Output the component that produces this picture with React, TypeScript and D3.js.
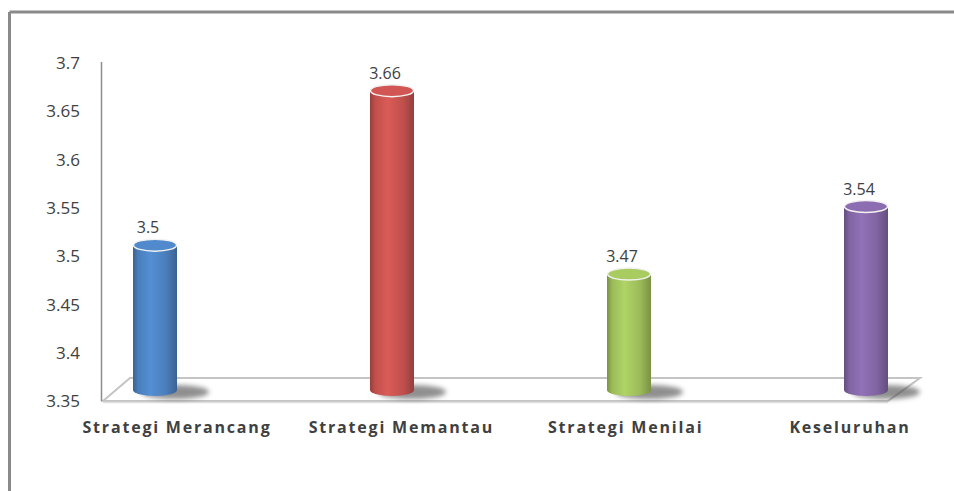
import React from "react";
import * as d3 from "d3";

const categories = ["Strategi Merancang", "Strategi Memantau", "Strategi Menilai", "Keseluruhan"];
const values = [3.5, 3.66, 3.47, 3.54];
const yTicks = [3.35, 3.4, 3.45, 3.5, 3.55, 3.6, 3.65, 3.7];
const colors = ["#4a7ebb", "#c0504d", "#9bbb59", "#8064a2"];

const W = 954;
const H = 491;

export default function App() {
  const y = d3.scaleLinear().domain([3.35, 3.7]).range([401, 63]);
  const depthY = -11;
  const xBar = d3.scalePoint<string>().domain(categories).range([155, 866]);
  const xLabel = d3.scalePoint<string>().domain(categories).range([177, 850]);
  const barW = 44;
  const rx = barW / 2;
  const ry = 6;
  const baseY = y(3.35) + depthY;
  const floorLeft = 103;
  const floorRight = 888;

  return (
    <svg width={W} height={H} style={{ position: "absolute", left: 0, top: 0, background: "#fff" }}
      fontFamily="'Open Sans', sans-serif">
      <defs>
        {colors.map((c, i) => {
          const base = d3.color(c)!;
          const dark = d3.color(c)!.darker(0.7).formatHex();
          const light = d3.color(c)!.brighter(0.35).formatHex();
          return (
            <linearGradient key={i} id={`g${i}`} x1="0" x2="1" y1="0" y2="0">
              <stop offset="0" stopColor={dark} />
              <stop offset="0.12" stopColor={base.formatHex()} />
              <stop offset="0.4" stopColor={light} />
              <stop offset="0.75" stopColor={base.formatHex()} />
              <stop offset="1" stopColor={dark} />
            </linearGradient>
          );
        })}
        <filter id="blur" x="-50%" y="-100%" width="200%" height="300%">
          <feGaussianBlur stdDeviation="2.5" />
        </filter>
      </defs>
      {/* frame */}
      <line x1={9.5} y1={12} x2={W} y2={12} stroke="#8a8a8a" strokeWidth={3} />
      <line x1={9.5} y1={12} x2={9.5} y2={H} stroke="#8a8a8a" strokeWidth={3} />

      {/* floor */}
      <path
        d={`M${floorLeft},${y(3.35)} L${floorLeft + 27},${y(3.35) - 23} L${floorRight + 32},${y(3.35) - 23} L${floorRight},${y(3.35)} Z`}
        fill="#fff" stroke="#c4c4c4" strokeWidth={2}
      />
      <line x1={floorLeft} y1={y(3.35) + 1.5} x2={floorRight} y2={y(3.35) + 1.5} stroke="#e0e0e0" strokeWidth={1.5} />

      {/* y axis */}
      <line x1={101.5} y1={y(3.7) - 1} x2={101.5} y2={y(3.35)} stroke="#8c8c8c" strokeWidth={1.5} />
      {yTicks.map((t) => (
        <text key={t} x={80} y={y(t)} dy="0.36em" textAnchor="end" fontSize={17} fill="#404040">
          {d3.format("")(t)}
        </text>
      ))}

      {/* bars */}
      {categories.map((c, i) => {
        const cx = xBar(c)!;
        const top = y(values[i]) + depthY;
        const topC = d3.color(colors[i])!.brighter(0.25).formatHex();
        return (
          <g key={c}>
            <ellipse cx={cx + 20} cy={baseY + 2} rx={34} ry={7} fill="#444" opacity={0.6} filter="url(#blur)" />
            <path
              d={`M${cx - rx},${top} L${cx - rx},${baseY} A${rx},${ry} 0 0 0 ${cx + rx},${baseY} L${cx + rx},${top} Z`}
              fill={`url(#g${i})`}
            />
            <ellipse cx={cx} cy={top} rx={rx - 0.5} ry={ry} fill={topC} stroke="#f2f2f2" strokeWidth={1.5} />
            <text x={cx - 7} y={top - 12} textAnchor="middle" fontSize={16} fill="#404040">
              {values[i]}
            </text>
          </g>
        );
      })}

      {/* category labels */}
      {categories.map((c) => (
        <text key={c} x={xLabel(c)!} y={433} textAnchor="middle" fontSize={16} fontWeight="bold"
          fill="#404040" letterSpacing={1.8}>
          {c}
        </text>
      ))}
    </svg>
  );
}
